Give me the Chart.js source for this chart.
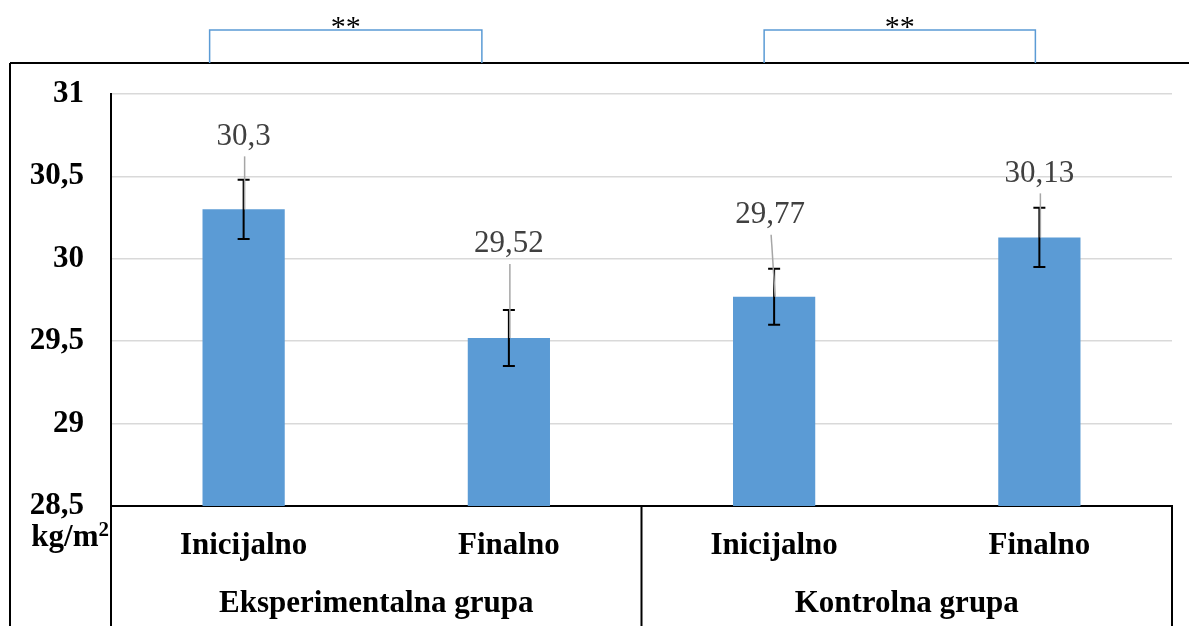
<!DOCTYPE html>
<html>
<head>
<meta charset="utf-8">
<script src="https://cdn.jsdelivr.net/npm/chart.js@4.4.1/dist/chart.umd.min.js"></script>
<style>
  html, body { margin: 0; padding: 0; background: #fff; }
  canvas { display: block; }
</style>
</head>
<body>
<canvas id="chart" width="1189" height="626"></canvas>
<script>
// podaci
const categories = ['Inicijalno', 'Finalno', 'Inicijalno', 'Finalno'];
const groups = ['Eksperimentalna grupa', 'Kontrolna grupa'];
const means = [30.3, 29.52, 29.77, 30.13];
const meanLabels = ['30,3', '29,52', '29,77', '30,13'];
const errors = [0.18, 0.17, 0.17, 0.18];
const significance = ['**', '**'];
const unitLabel = ['kg/m', '2'];

const SERIF = '"Liberation Serif", "Times New Roman", serif';
const BAR_COLOR = '#5B9BD5';

// pomak oznaka (px iznad vrha stupca) kao u originalu
const labelLift = [75, 96, 84, 66];
const labelShift = [0, 0, -4, 0];

const overlay = {
  id: 'overlay',
  afterDatasetsDraw(chart) {
    const ctx = chart.ctx;
    const x = chart.scales.x;
    const y = chart.scales.y;
    ctx.save();
    means.forEach((m, i) => {
      const cx = x.getPixelForValue(i);
      const top = y.getPixelForValue(m);
      const hi = y.getPixelForValue(m + errors[i]);
      const lo = y.getPixelForValue(m - errors[i]);

      // error bar
      ctx.strokeStyle = '#000';
      ctx.lineWidth = 2;
      ctx.beginPath();
      ctx.moveTo(cx, hi); ctx.lineTo(cx, lo);
      ctx.moveTo(cx - 6, hi); ctx.lineTo(cx + 6, hi);
      ctx.moveTo(cx - 6, lo); ctx.lineTo(cx + 6, lo);
      ctx.stroke();

      // leader line + data label
      const lx = cx + labelShift[i];
      const ly = top - labelLift[i] + 2;
      ctx.strokeStyle = '#a6a6a6';
      ctx.lineWidth = 1.5;
      ctx.beginPath();
      ctx.moveTo(lx + 1, ly + 20);
      ctx.lineTo(cx + 1, top);
      ctx.stroke();

      ctx.fillStyle = '#404040';
      ctx.font = '31px ' + SERIF;
      ctx.textAlign = 'center';
      ctx.textBaseline = 'middle';
      ctx.fillText(meanLabels[i], lx, ly);
    });
    ctx.restore();
  },
  afterDraw(chart) {
    const ctx = chart.ctx;
    const x = chart.scales.x;
    const area = chart.chartArea;
    const W = chart.width, H = chart.height;
    ctx.save();

    // okvir
    ctx.strokeStyle = '#000';
    ctx.lineWidth = 2;
    ctx.beginPath();
    ctx.moveTo(10, 63); ctx.lineTo(W, 63);
    ctx.moveTo(10, 63); ctx.lineTo(10, H);
    const mid = (x.getPixelForValue(1) + x.getPixelForValue(2)) / 2;
    [area.left, mid, area.right].forEach(px => {
      ctx.moveTo(px, area.bottom); ctx.lineTo(px, H);
    });
    ctx.stroke();

    // jedinica ispod osi
    ctx.fillStyle = '#000';
    ctx.textBaseline = 'alphabetic';
    ctx.textAlign = 'right';
    ctx.font = 'bold 21px ' + SERIF;
    const supW = ctx.measureText(unitLabel[1]).width;
    ctx.fillText(unitLabel[1], area.left - 2, area.bottom + 30);
    ctx.font = 'bold 31px ' + SERIF;
    ctx.fillText(unitLabel[0], area.left - 2 - supW, area.bottom + 40);

    // zagrade znacajnosti
    const brackets = [
      [x.getPixelForValue(0) - 34, x.getPixelForValue(1) - 27],
      [x.getPixelForValue(2) - 10, x.getPixelForValue(3) - 4]
    ];
    ctx.strokeStyle = BAR_COLOR;
    ctx.lineWidth = 1.5;
    brackets.forEach(([a, b], k) => {
      ctx.beginPath();
      ctx.moveTo(a, 63); ctx.lineTo(a, 30); ctx.lineTo(b, 30); ctx.lineTo(b, 63);
      ctx.stroke();
      ctx.fillStyle = '#000';
      ctx.font = '30px ' + SERIF;
      ctx.textAlign = 'center';
      ctx.textBaseline = 'alphabetic';
      ctx.fillText(significance[k], (a + b) / 2, 36);
    });
    ctx.restore();
  }
};

new Chart(document.getElementById('chart'), {
  type: 'bar',
  data: {
    labels: categories,
    datasets: [{
      data: means,
      backgroundColor: BAR_COLOR,
      borderWidth: 0,
      categoryPercentage: 1,
      barPercentage: 0.31
    }]
  },
  options: {
    responsive: false,
    animation: false,
    devicePixelRatio: 1,
    layout: { padding: { left: 10, top: 94, right: 17, bottom: 0 } },
    plugins: { legend: { display: false }, tooltip: { enabled: false } },
    scales: {
      y: {
        min: 28.5,
        max: 31,
        ticks: {
          stepSize: 0.5,
          padding: 27,
          color: '#000',
          font: { family: SERIF, size: 31, weight: 'bold' },
          callback: v => String(v).replace('.', ',')
        },
        grid: { color: '#d9d9d9', lineWidth: 1.5, drawTicks: false },
        border: { color: '#000', width: 2 },
        afterFit(s) { s.width = 101; s.paddingTop = 0; s.paddingBottom = 0; }
      },
      x: {
        weight: 0,
        ticks: {
          padding: 21,
          color: '#000',
          font: { family: SERIF, size: 31, weight: 'bold' }
        },
        grid: { display: false, drawTicks: false },
        border: { color: '#000', width: 2 },
        afterFit(s) { s.height = 68; s.paddingLeft = 0; s.paddingRight = 0; }
      },
      x2: {
        type: 'category',
        position: 'bottom',
        weight: 1,
        labels: groups,
        offset: true,
        ticks: {
          padding: 11,
          color: '#000',
          font: { family: SERIF, size: 31, weight: 'bold' }
        },
        grid: { display: false, drawTicks: false },
        border: { display: false },
        afterFit(s) { s.height = 52; s.paddingLeft = 0; s.paddingRight = 0; }
      }
    }
  },
  plugins: [overlay]
});
</script>
</body>
</html>
